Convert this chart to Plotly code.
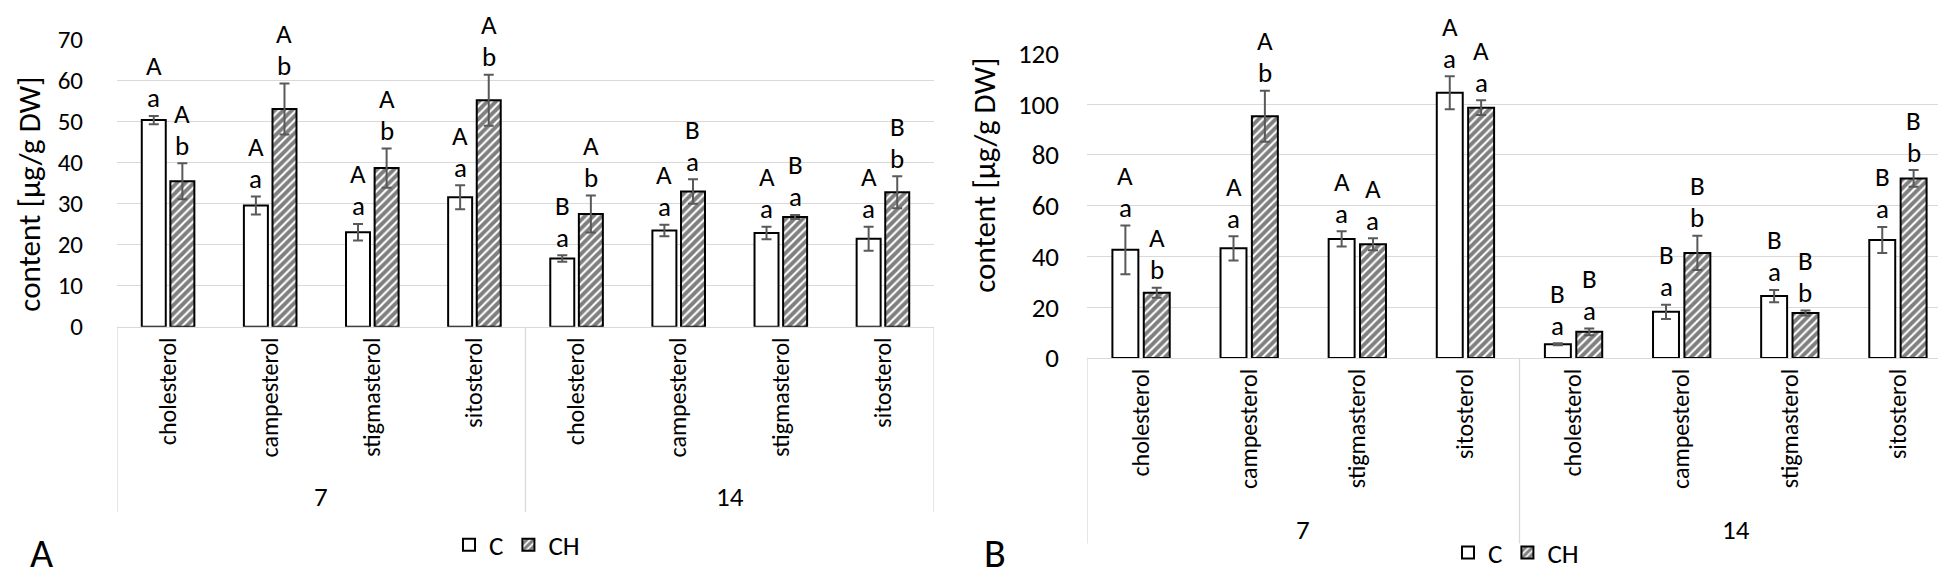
import plotly.graph_objects as go

# ---------------- data ----------------
sterols = ["cholesterol", "campesterol", "stigmasterol", "sitosterol"]
days = ["7", "14"]
series_names = ["C", "CH"]

# Panel A
A_C = [50.3, 29.5, 23.0, 31.5, 16.6, 23.4, 22.8, 21.4]
A_C_err = [1.0, 2.2, 2.0, 2.9, 0.8, 1.4, 1.5, 2.9]
A_CH = [35.4, 53.0, 38.6, 55.1, 27.4, 32.9, 26.7, 32.7]
A_CH_err = [4.4, 6.2, 4.8, 6.2, 4.5, 3.0, 0.5, 3.9]
A_C_up = ["A", "A", "A", "A", "B", "A", "A", "A"]
A_C_low = ["a", "a", "a", "a", "a", "a", "a", "a"]
A_CH_up = ["A", "A", "A", "A", "A", "B", "B", "B"]
A_CH_low = ["b", "b", "b", "b", "b", "a", "a", "b"]

# Panel B
B_C = [42.6, 43.2, 46.9, 104.5, 5.4, 18.2, 24.4, 46.5]
B_C_err = [9.6, 4.8, 3.0, 6.5, 0.4, 2.8, 2.4, 5.1]
B_CH = [25.7, 95.2, 44.8, 98.6, 10.3, 41.4, 17.7, 70.7]
B_CH_err = [2.0, 10.0, 2.4, 2.9, 1.3, 6.7, 1.0, 3.3]
B_C_up = ["A", "A", "A", "A", "B", "B", "B", "B"]
B_C_low = ["a", "a", "a", "a", "a", "a", "a", "a"]
B_CH_up = ["A", "A", "A", "A", "B", "B", "B", "B"]
B_CH_low = ["b", "b", "a", "a", "a", "b", "b", "b"]

# ---------------- styling ----------------
W, H = 1946, 575
FONT = "Carlito, Lato, sans-serif"
GRID = "#d9d9d9"
ERRC = "#595959"

labels = sterols * len(days)
xpos = list(range(len(labels)))
day_of = [d for d in days for _ in sterols]

def px_x(p):
    return p / W

def px_y(p):
    return 1 - p / H

panels = [
    dict(name="A", xa="x", ya="y", xdom=[109, 926], ydom=[320, 15], yr=[0, 70], dt=10,
         C=A_C, Ce=A_C_err, CH=A_CH, CHe=A_CH_err,
         Cu=A_C_up, Cl=A_C_low, CHu=A_CH_up, CHl=A_CH_low,
         off=0.14, bw=0.235, box_bottom=517, grp_y=500, legend="legend",
         leg=(509, 552), title=(21, 180), letter=(34, 561), stand=33, tick=25, cat=24),
    dict(name="B", xa="x2", ya="y2", xdom=[1079, 1944], ydom=[353.3, 30], yr=[0, 120], dt=20,
         C=B_C, Ce=B_C_err, CH=B_CH, CHe=B_CH_err,
         Cu=B_C_up, Cl=B_C_low, CHu=B_CH_up, CHl=B_CH_low,
         off=0.145, bw=0.24, box_bottom=550, grp_y=535, legend="legend2",
         leg=(1508, 560), title=(976, 160), letter=(987, 561), stand=27, tick=27, cat=24),
]

fig = go.Figure()
annotations = []
shapes = []
layout = {}

for i, p in enumerate(panels):
    sfx = "" if i == 0 else str(i + 1)
    for sname, vals, errs, ups, lows, sign in [
        ("C", p["C"], p["Ce"], p["Cu"], p["Cl"], -1),
        ("CH", p["CH"], p["CHe"], p["CHu"], p["CHl"], 1),
    ]:
        marker = dict(color="white", line=dict(color="black", width=2))
        if sname == "CH":
            marker["pattern"] = dict(shape="/", fgcolor="black", bgcolor="white",
                                     size=6, solidity=0.65)
        offset = sign * p["off"] - p["bw"] / 2
        fig.add_trace(go.Bar(
            x=xpos, y=vals, name=sname, marker=marker,
            width=p["bw"], offset=offset,
            error_y=dict(type="data", array=errs, color=ERRC, thickness=2, width=5),
            xaxis=p["xa"], yaxis=p["ya"], legend=p["legend"], showlegend=True,
        ))
        for xi, v, e, u, l in zip(xpos, vals, errs, ups, lows):
            cx = xi + sign * p["off"]
            for txt, sh in [(l, 18), (u, 50)]:
                annotations.append(dict(
                    x=cx, y=v + e, xref=p["xa"], yref=p["ya"], text=txt,
                    showarrow=False, yshift=sh, yanchor="middle",
                    font=dict(family=FONT, size=27, color="black")))

    layout["xaxis" + sfx] = dict(
        domain=[px_x(p["xdom"][0]), px_x(p["xdom"][1])],
        anchor=p["ya"], range=[-0.5, len(labels) - 0.5],
        tickmode="array", tickvals=xpos, ticktext=labels, tickangle=-90,
        ticks="", ticklabelstandoff=0,
        tickfont=dict(family=FONT, size=p["cat"], color="black"),
        showgrid=False, showline=True, linecolor=GRID, linewidth=1.3, zeroline=False,
    )
    layout["yaxis" + sfx] = dict(
        domain=[px_y(p["ydom"][0]), px_y(p["ydom"][1])],
        anchor=p["xa"], range=p["yr"], dtick=p["dt"], tick0=0,
        showgrid=True, gridcolor=GRID, gridwidth=1.3, zeroline=False,
        showline=False, ticks="", ticklabelstandoff=p["stand"],
        tickfont=dict(family=FONT, size=p["tick"], color="black"),
    )

    # category box lines
    for bx in [-0.5, 3.5, 7.5]:
        shapes.append(dict(type="line", xref=p["xa"], yref="paper",
                           x0=bx, x1=bx, y0=px_y(p["ydom"][0]), y1=px_y(p["box_bottom"]),
                           line=dict(color=GRID, width=1.3)))
    # group labels
    for d in days:
        idx = [k for k, dd in enumerate(day_of) if dd == d]
        annotations.append(dict(
            x=sum(idx) / len(idx), y=px_y(p["grp_y"]), xref=p["xa"], yref="paper",
            text=d, showarrow=False, yanchor="middle",
            font=dict(family=FONT, size=27, color="black")))
    # y title
    annotations.append(dict(
        x=px_x(p["title"][0]), y=px_y(p["title"][1]), xref="paper", yref="paper",
        text="content [µg/g DW]", textangle=-90, showarrow=False,
        xanchor="center", yanchor="middle",
        font=dict(family=FONT, size=31, color="black")))
    # panel letter
    annotations.append(dict(
        x=px_x(p["letter"][0]), y=px_y(p["letter"][1]), xref="paper", yref="paper",
        text=p["name"], showarrow=False, xanchor="center", yanchor="middle",
        font=dict(family=FONT, size=40, color="black")))
    layout[p["legend"]] = dict(
        orientation="h", x=px_x(p["leg"][0]), y=px_y(p["leg"][1]),
        xanchor="center", yanchor="middle", itemwidth=30,
        font=dict(family=FONT, size=27, color="black"),
        bgcolor="rgba(0,0,0,0)", tracegroupgap=0,
    )

fig.update_layout(
    width=W, height=H, margin=dict(l=0, r=0, t=0, b=0),
    paper_bgcolor="white", plot_bgcolor="white",
    barmode="overlay", annotations=annotations, shapes=shapes,
    **layout,
)

fig.write_html("out.html")
